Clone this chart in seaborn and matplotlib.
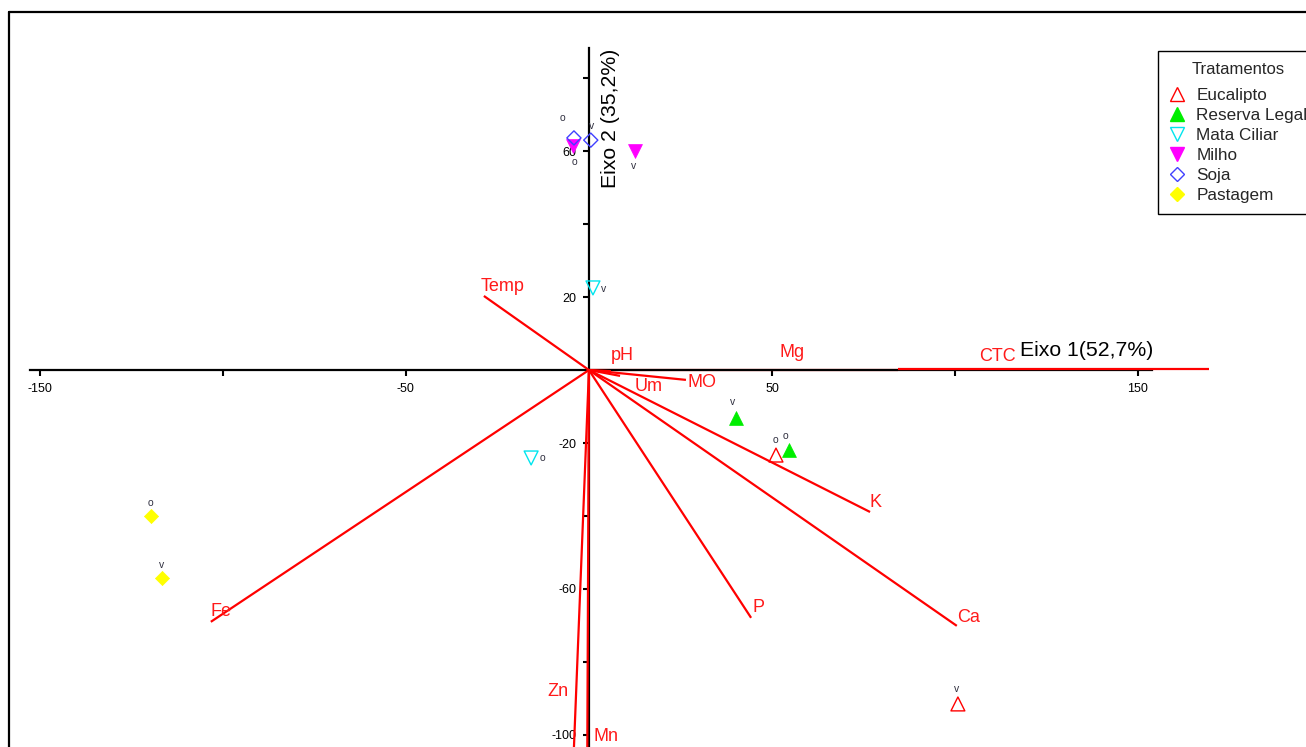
import matplotlib
matplotlib.use("Agg")
import matplotlib.pyplot as plt
from matplotlib.lines import Line2D
import pandas as pd
import seaborn as sns

sns.set_theme(style="white")
plt.rcParams["font.family"] = ["Liberation Sans", "DejaVu Sans"]

# Sample scores on the first two ordination axes
treatments = ["Eucalipto", "Eucalipto", "Reserva Legal", "Reserva Legal",
              "Mata Ciliar", "Mata Ciliar", "Milho", "Milho",
              "Soja", "Soja", "Pastagem", "Pastagem"]
seasons = ["o", "v", "v", "o", "v", "o", "v", "o", "o", "v", "o", "v"]
axis1 = [51.1, 100.8, 40.2, 54.6, 1.1, -15.8, 12.6, -4.4, -4.1, 0.5, -119.7, -116.7]
axis2 = [-23.3, -91.5, -13.2, -21.9, 22.5, -24.1, 59.9, 61.4, 63.6, 63.0, -40.0, -57.0]

# Environmental variable vectors
variables = ["Temp", "pH", "Um", "MO", "Mg", "CTC", "K", "Ca", "P", "Fe", "Zn", "Mn"]
vec_start1 = [0, 0, 0, 0, 0, 84.5, 0, 0, 0, 0, 0, 0]
vec_start2 = [0, 0, 0, 0, 0, 0.3, 0, 0, 0, 0, 0, 0]
vec_end1 = [-28.7, 6.0, 8.5, 26.5, 84.5, 169.4, 76.8, 100.5, 44.3, -103.3, -4.6, -0.5]
vec_end2 = [20.3, -0.3, -1.6, -2.7, 0.0, 0.3, -38.9, -70.1, -67.9, -69.0, -116.0, -116.0]
label1 = [-23.5, 9.0, 16.4, 30.9, 55.5, 111.7, 78.4, 103.8, 46.2, -100.5, -8.5, 4.6]
label2 = [23.0, 4.1, -4.4, -3.3, 4.7, 3.6, -36.4, -67.7, -65.2, -66.3, -88.2, -100.5]

treatment_order = ["Eucalipto", "Reserva Legal", "Mata Ciliar", "Milho", "Soja", "Pastagem"]

# marker, colour, filled, size
styles = {
    "Eucalipto": ("^", "#ff0000", False, 100),
    "Reserva Legal": ("^", "#00ee00", True, 100),
    "Mata Ciliar": ("v", "#00e5ee", False, 100),
    "Milho": ("v", "#ff00ff", True, 100),
    "Soja": ("D", "#4040ff", False, 52),
    "Pastagem": ("D", "#ffff00", True, 52),
}

# offsets (points) of the season tags relative to each sample
tag_dx = [-0.7, -0.7, -2.2, -2.2, 8.0, 8.0, -0.7, 1.4, -8.6, 0.7, 0.0, 0.0]
tag_dy = [10.8, 10.8, 11.5, 10.1, -0.7, 0.0, -10.8, -11.5, 14.4, 10.1, 9.4, 9.4]

df = pd.DataFrame({"Tratamento": treatments, "Epoca": seasons,
                   "Eixo1": axis1, "Eixo2": axis2})

fig = plt.figure(figsize=(13.06, 7.47), dpi=100)
ax = fig.add_axes([0, 0, 1, 1])
ax.set_xlim(-160.9, 195.9)
ax.set_ylim(-103.3, 101.4)

# axes crossing at the origin
for side in ["top", "right"]:
    ax.spines[side].set_visible(False)
ax.spines["left"].set_position(("data", 0))
ax.spines["bottom"].set_position(("data", 0))
ax.spines["left"].set_bounds(-103.3, 88.2)
ax.spines["bottom"].set_bounds(-152.7, 153.8)
for side in ["left", "bottom"]:
    ax.spines[side].set_color("black")
    ax.spines[side].set_linewidth(1.6)
    ax.spines[side].set_zorder(2.5)

ax.set_xticks([-150, -100, -50, 50, 100, 150])
ax.set_xticklabels(["-150", "", "-50", "50", "", "150"])
ax.set_yticks([-100, -80, -60, -40, -20, 20, 40, 60, 80])
ax.set_yticklabels(["-100", "", "-60", "", "-20", "20", "", "60", ""])
ax.tick_params(bottom=True, left=True, direction="out", length=4, width=1.5,
               labelsize=9, pad=5, colors="black")
ax.grid(False)

# variable vectors
for name, x0, y0, x1, y1, lx, ly in zip(variables, vec_start1, vec_start2,
                                        vec_end1, vec_end2, label1, label2):
    z = 1 if name == "Mg" else 3
    ax.plot([x0, x1], [y0, y1], color="#ff0000", lw=1.6, zorder=z,
            solid_capstyle="butt")
    ax.text(lx, ly, name, color="#ff1a1a", fontsize=13, ha="center",
            va="center", zorder=4)

# samples
for t in treatment_order:
    m, c, filled, s = styles[t]
    sub = df[df["Tratamento"] == t]
    if filled:
        sns.scatterplot(data=sub, x="Eixo1", y="Eixo2", marker=m, s=s,
                        color=c, edgecolor=c, linewidth=0.5, ax=ax,
                        legend=False, zorder=5)
    else:
        sns.scatterplot(data=sub, x="Eixo1", y="Eixo2", marker=m, s=s,
                        color=c, facecolor="none", edgecolor=c, linewidth=1.0,
                        ax=ax, legend=False, zorder=5)

for x, y, tag, dx, dy in zip(axis1, axis2, seasons, tag_dx, tag_dy):
    ax.annotate(tag, (x, y), xytext=(dx, dy), textcoords="offset points",
                ha="center", va="center", fontsize=7.5, color="#303040",
                zorder=6)

ax.set_xlabel("")
ax.set_ylabel("")
ax.text(117.8, 5.3, "Eixo 1(52,7%)", fontsize=15.3, ha="left", va="center",
        color="black", zorder=6)
ax.text(6.0, 69.0, "Eixo 2 (35,2%)", fontsize=15.3, ha="center", va="center",
        rotation=90, color="black", zorder=6)

# legend
handles = []
for t in treatment_order:
    m, c, filled, s = styles[t]
    ms = 10 if m != "D" else 7.5
    handles.append(Line2D([], [], linestyle="", marker=m, markersize=ms,
                          markerfacecolor=c if filled else "none",
                          markeredgecolor=c, markeredgewidth=1.0))
leg = ax.legend(handles, treatment_order, title="Tratamentos",
                loc="upper left", bbox_to_anchor=(1158 / 1306, 1 - 51 / 747),
                bbox_transform=fig.transFigure, borderaxespad=0,
                fontsize=12.3, title_fontsize=12, frameon=True, fancybox=False,
                framealpha=1, edgecolor="black", borderpad=0.65,
                labelspacing=0.285, handletextpad=0.7, handlelength=0.9)
leg.get_frame().set_linewidth(1.0)
leg._legend_box.sep = 8

# figure border
fig.add_artist(Line2D([9 / 1306, 1], [1 - 12 / 747, 1 - 12 / 747],
                      transform=fig.transFigure, color="black", lw=1.6))
fig.add_artist(Line2D([9 / 1306, 9 / 1306], [0, 1 - 12 / 747],
                      transform=fig.transFigure, color="black", lw=1.6))

fig.savefig("out.png", dpi=100)
